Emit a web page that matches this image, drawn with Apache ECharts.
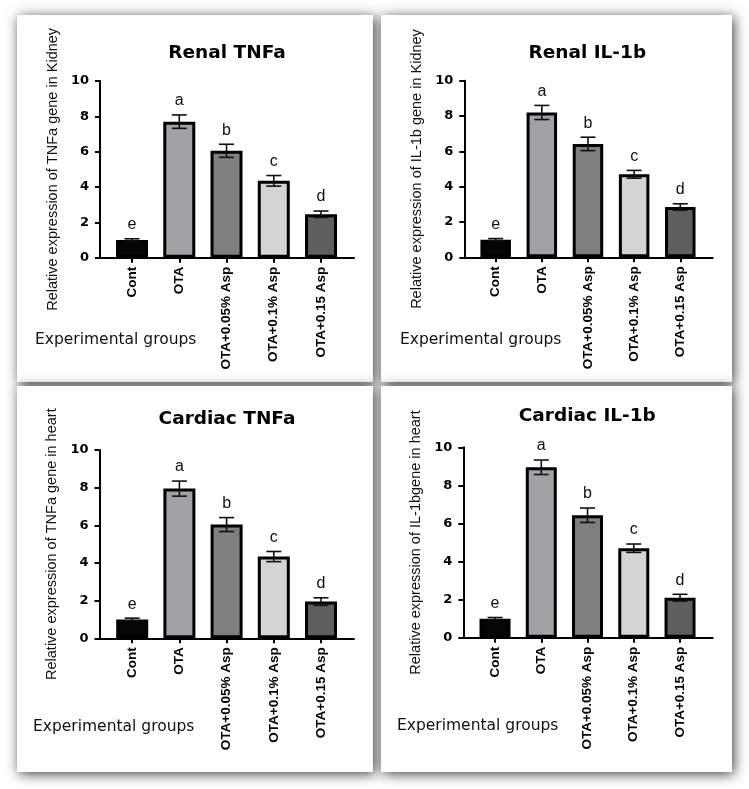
<!DOCTYPE html>
<html>
<head>
<meta charset="utf-8">
<script src="https://cdn.jsdelivr.net/npm/echarts@6/dist/echarts.min.js"></script>
<style>html,body{margin:0;padding:0;background:#fff}#c{width:749px;height:789px}</style>
</head>
<body>
<div id="c"></div>
<script>
// ---------------- data ----------------
const categories = ['Cont', 'OTA', 'OTA+0.05% Asp', 'OTA+0.1% Asp', 'OTA+0.15 Asp'];
const letters = ['e', 'a', 'b', 'c', 'd'];
const titles = ['Renal TNFa', 'Renal IL-1b', 'Cardiac TNFa', 'Cardiac IL-1b'];
const yNames = [
  'Relative expression of TNFa gene in Kidney',
  'Relative expression of IL-1b gene in Kidney',
  'Relative expression of TNFa gene in heart',
  'Relative expression of IL-1bgene in heart'
];
const xName = 'Experimental groups';
const renalTNFa = [1.0, 7.7, 6.05, 4.35, 2.46];
const renalTNFaErr = [0.07, 0.38, 0.37, 0.3, 0.18];
const renalIL1b = [1.0, 8.2, 6.42, 4.7, 2.85];
const renalIL1bErr = [0.06, 0.4, 0.38, 0.22, 0.18];
const cardiacTNFa = [1.0, 7.95, 6.04, 4.34, 1.95];
const cardiacTNFaErr = [0.07, 0.4, 0.37, 0.27, 0.2];
const cardiacIL1b = [1.0, 8.95, 6.43, 4.7, 2.1];
const cardiacIL1bErr = [0.06, 0.38, 0.38, 0.22, 0.18];
const yMin = 0, yMax = 10, yStep = 2;

// ---------------- layout / style ----------------
const values = [renalTNFa, renalIL1b, cardiacTNFa, cardiacIL1b];
const errors = [renalTNFaErr, renalIL1bErr, cardiacTNFaErr, cardiacIL1bErr];
const barColors = ['#050505', '#a2a2a6', '#7f7f7f', '#d4d4d4', '#5e5e5e'];
const panels = [
  {axisX: 100, top: 81, bottom: 257.7, left: 108.4, width: 236.25, lineRight: 354, tx: 227, ty: 53, ex: 35, ey: 340, bw: 32},
  {axisX: 464.3, top: 80.7, bottom: 257.3, left: 472.6, width: 230.75, lineRight: 712.7, tx: 587.3, ty: 53, ex: 400, ey: 340, bw: 30.5},
  {axisX: 99.5, top: 450, bottom: 638.3, left: 108.6, width: 236, lineRight: 354, tx: 227, ty: 419, ex: 33, ey: 726.5, bw: 32},
  {axisX: 463.3, top: 447.3, bottom: 637.7, left: 471.9, width: 231.25, lineRight: 712.7, tx: 587.3, ty: 416, ex: 397, ey: 726, bw: 31}
];
const cards = [
  [17, 15, 356, 367], [381, 15, 351, 367],
  [17, 386, 356, 386], [381, 386, 351, 386]
];

const grid = [], xAxis = [], yAxis = [], series = [], graphic = [];
cards.forEach(c => {
  graphic.push({type: 'rect', z: -10, shape: {x: c[0], y: c[1], width: c[2], height: c[3]},
    style: {fill: '#fff', shadowBlur: 12, shadowColor: 'rgba(0,0,0,0.75)', shadowOffsetX: 2, shadowOffsetY: 2}});
});

panels.forEach((p, k) => {
  const h = p.bottom - p.top;
  grid.push({left: p.left, top: p.top, width: p.width, height: h, containLabel: false});
  grid.push({left: p.axisX, top: p.top, width: p.lineRight - p.axisX, height: h, containLabel: false});
  const gMain = 2 * k, gLine = 2 * k + 1;
  xAxis.push({
    type: 'category', gridIndex: gMain, data: categories, z: 3,
    axisLine: {show: true, lineStyle: {color: '#000', width: 2}},
    axisTick: {show: true, alignWithLabel: true, length: 5, lineStyle: {color: '#000', width: 2}},
    axisLabel: {interval: 0, rotate: 90, margin: 9, color: '#000', fontSize: 13.5, fontWeight: 'bold', fontFamily: 'Liberation Sans'},
    splitLine: {show: false}
  });
  xAxis.push({
    type: 'value', gridIndex: gLine, min: 0, max: 1, z: 3,
    axisLine: {show: true, onZero: false, lineStyle: {color: '#000', width: 2}},
    axisTick: {show: false}, axisLabel: {show: false}, splitLine: {show: false}
  });
  yAxis.push({
    type: 'value', gridIndex: gMain, min: yMin, max: yMax, interval: yStep, z: 3,
    offset: p.left - p.axisX,
    name: yNames[k], nameLocation: 'middle', nameGap: 40,
    nameTextStyle: {fontSize: 14.5, fontFamily: 'Liberation Sans', color: '#111'},
    axisLine: {show: true, lineStyle: {color: '#000', width: 2}},
    axisTick: {show: true, length: 5, lineStyle: {color: '#000', width: 2}},
    axisLabel: {margin: 11, color: '#000', fontSize: 13, fontWeight: 'bold', fontFamily: 'DejaVu Sans'},
    splitLine: {show: false}
  });
  yAxis.push({type: 'value', gridIndex: gLine, min: 0, max: 1, show: false});

  series.push({
    type: 'bar', xAxisIndex: gMain, yAxisIndex: gMain, z: 4, barWidth: p.bw,
    data: values[k].map((v, i) => ({value: v, itemStyle: {color: barColors[i]}})),
    itemStyle: {borderColor: '#000', borderWidth: 3},
    emphasis: {disabled: true}, animation: false
  });
  const errs = errors[k];
  series.push({
    type: 'custom', xAxisIndex: gMain, yAxisIndex: gMain, z: 5, animation: false,
    data: values[k].map((v, i) => [i, v, errs[i]]),
    encode: {x: 0, y: 1},
    renderItem: function (params, api) {
      const i = api.value(0), v = api.value(1), e = api.value(2);
      const t = api.coord([i, v + e]);
      const b = api.coord([i, v - e]);
      const hw = 7.5;
      const ls = {stroke: '#111', lineWidth: 1.6};
      return {type: 'group', children: [
        {type: 'line', shape: {x1: t[0], y1: t[1], x2: b[0], y2: b[1]}, style: ls},
        {type: 'line', shape: {x1: t[0] - hw, y1: t[1], x2: t[0] + hw, y2: t[1]}, style: ls},
        {type: 'line', shape: {x1: b[0] - hw, y1: b[1], x2: b[0] + hw, y2: b[1]}, style: ls},
        {type: 'text', x: t[0], y: t[1] - 14,
          style: {text: letters[params.dataIndex], font: '16px "Liberation Sans"', fill: '#111', align: 'center', verticalAlign: 'middle'}}
      ]};
    }
  });

  graphic.push({type: 'text', z: 10, x: p.tx, y: p.ty,
    style: {text: titles[k], font: 'bold 18.5px "DejaVu Sans"', fill: '#000', align: 'center', verticalAlign: 'middle'}});
  graphic.push({type: 'text', z: 10, x: p.ex, y: p.ey,
    style: {text: xName, font: '15.5px "DejaVu Sans"', fill: '#111', align: 'left', verticalAlign: 'middle'}});
});

const chart = echarts.init(document.getElementById('c'), null, {renderer: 'canvas'});
chart.setOption({
  backgroundColor: '#fff',
  animation: false,
  grid: grid, xAxis: xAxis, yAxis: yAxis, series: series, graphic: graphic
});
</script>
</body>
</html>
